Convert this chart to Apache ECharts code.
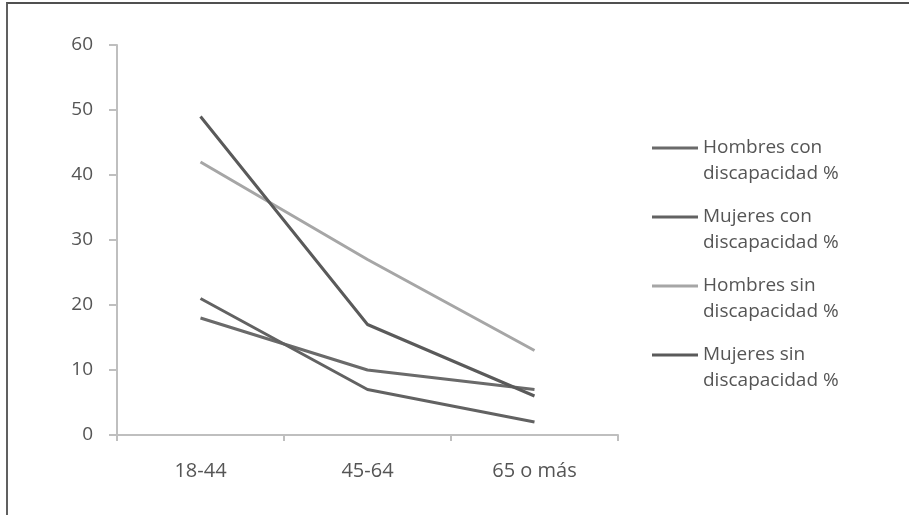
<!DOCTYPE html>
<html>
<head>
<meta charset="utf-8">
<script src="https://cdn.jsdelivr.net/npm/echarts@6/dist/echarts.min.js"></script>
<style>
  html, body { margin: 0; padding: 0; background: #fff; }
  #chart { width: 909px; height: 515px; }
  #frame { position: absolute; left: 6px; top: 2px; width: 903px; height: 513px;
           border-top: 2px solid #505050; border-left: 2px solid #606060; box-sizing: border-box; pointer-events: none; }
</style>
</head>
<body>
<div id="chart"></div>
<div id="frame"></div>
<script>
const categories = ['18-44', '45-64', '65 o más'];
const seriesNames = ['Hombres con\ndiscapacidad %', 'Mujeres con\ndiscapacidad %', 'Hombres sin\ndiscapacidad %', 'Mujeres sin\ndiscapacidad %'];
const hombresCon = [18, 10, 7];
const mujeresCon = [21, 7, 2];
const hombresSin = [42, 27, 13];
const mujeresSin = [49, 17, 6];
const yTicks = [0, 10, 20, 30, 40, 50, 60];

const colors = ['#6a6a6a', '#626262', '#a6a6a6', '#5a5a5a'];
const values = [hombresCon, mujeresCon, hombresSin, mujeresSin];

const chart = echarts.init(document.getElementById('chart'));
chart.setOption({
  animation: false,
  backgroundColor: '#ffffff',
  textStyle: { fontFamily: 'Open Sans', color: '#555555' },
  grid: { left: 117, right: 291, top: 45, bottom: 80, containLabel: false },
  legend: {
    orient: 'vertical',
    left: 652,
    top: 109,
    padding: 0,
    icon: 'rect',
    itemWidth: 46,
    itemHeight: 3,
    itemGap: -9,
    formatter: function (name) { return '\n' + name; },
    textStyle: { fontFamily: 'Open Sans', fontSize: 19, color: '#555555', lineHeight: 26 },
    data: seriesNames
  },
  xAxis: {
    type: 'category',
    data: categories,
    boundaryGap: true,
    axisLine: { lineStyle: { color: '#bfbfbf', width: 2 } },
    axisTick: { show: true, length: 6, lineStyle: { color: '#bfbfbf', width: 2 } },
    axisLabel: { fontSize: 20, color: '#555555', margin: 26, fontFamily: 'Open Sans' },
    splitLine: { show: false }
  },
  yAxis: {
    type: 'value',
    min: yTicks[0],
    max: yTicks[yTicks.length - 1],
    interval: yTicks[1] - yTicks[0],
    axisLine: { show: true, lineStyle: { color: '#bfbfbf', width: 2 } },
    axisTick: { show: true, length: 8, lineStyle: { color: '#bfbfbf', width: 2 } },
    axisLabel: { fontSize: 19, color: '#555555', margin: 24, fontFamily: 'Open Sans' },
    splitLine: { show: false }
  },
  series: seriesNames.map((name, i) => ({
    name: name,
    type: 'line',
    data: values[i],
    symbol: 'none',
    color: colors[i],
    lineStyle: { width: 3, color: colors[i] }
  }))
});
</script>
</body>
</html>
